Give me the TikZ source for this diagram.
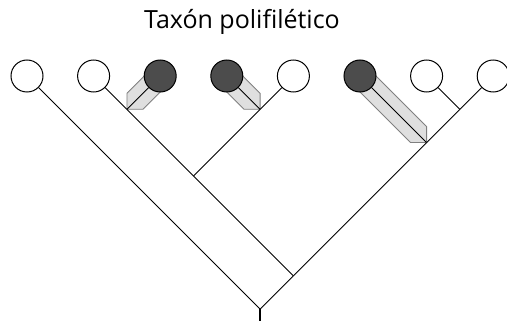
\documentclass[tikz,border=0pt]{standalone}
\usepackage{fontspec}
\newfontfamily\titlefont{Open Sans}
\usetikzlibrary{calc}

\begin{document}
\begin{tikzpicture}[x=1pt,y=1pt,
  leaf/.style={circle,draw,line width=1pt,minimum size=32pt,inner sep=0pt,fill=white},
  taxon/.style={leaf,fill=black!70},
  band/.style={fill=gray!25,draw=gray,line width=0.8pt},
  branch/.style={line width=0.9pt}]
  \useasboundingbox (0,0) rectangle (507,-321);

  % Title
  \node[font=\titlefont\fontsize{25}{30}\selectfont] (title) at (242,-22) {Taxón polifilético};

  % Leaf positions
  \foreach \i/\x in {1/27,2/93.6,3/160.2,4/226.8,5/293.4,6/360,7/426.6,8/493.2}
    \coordinate (p\i) at (\x,-76);

  % Internal nodes
  \coordinate (n23) at (126.9,-109.3);
  \coordinate (n45) at (260.1,-109.3);
  \coordinate (n78) at (459.9,-109.3);
  \coordinate (n68) at (426.6,-142.6);
  \coordinate (n25) at (193.5,-175.9);
  \coordinate (n58) at (293.4,-275.8);
  \coordinate (root) at (260.1,-309.1);
  \coordinate (stem) at (260.1,-321);

  % Shaded bands along the branches of the filled taxa
  \def\bw{16}
  \draw[band] (n23) -- ++(0,\bw) -- ($(p3)+(-\bw/2,\bw/2)$)
    -- ($(p3)+(\bw/2,-\bw/2)$) -- ($(n23)+(\bw,0)$) -- cycle;
  \foreach \n/\p in {n45/p4,n68/p6}
    \draw[band] (\n) -- ++(0,\bw) -- ($(\p)+(\bw/2,\bw/2)$)
      -- ($(\p)+(-\bw/2,-\bw/2)$) -- ($(\n)+(-\bw,0)$) -- cycle;

  % Leaves
  \foreach \i in {1,2,5,7,8}
    \node[leaf] (l\i) at (p\i) {};
  \foreach \i in {3,4,6}
    \node[taxon] (l\i) at (p\i) {};

  % Branches
  \foreach \a/\b in {n23/l2,n23/l3,n45/l4,n45/l5,n78/l7,n78/l8,n68/l6,n68/n78,
                     n25/n23,n25/n45,n58/n25,n58/n68,root/l1,root/n58}
    \draw[branch] (\a) -- (\b);
  \draw[line width=2pt] (root) -- (stem);
\end{tikzpicture}
\end{document}
